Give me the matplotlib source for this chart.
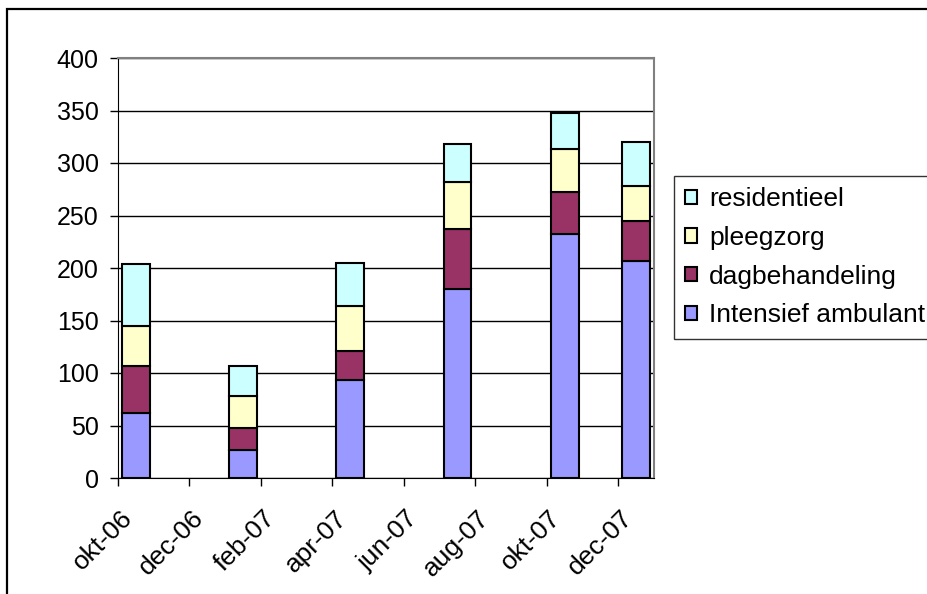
import numpy as np
import matplotlib.pyplot as plt
import matplotlib.transforms as mtransforms
from matplotlib.patches import Rectangle

plt.rcParams['font.family'] = ['Liberation Sans', 'DejaVu Sans']

# months counted from okt-06, one bar per reported month
bar_month = [0, 3, 6, 9, 12, 14]
tick_labels = ['okt-06', 'dec-06', 'feb-07', 'apr-07', 'jun-07', 'aug-07', 'okt-07', 'dec-07']

series_names = ['Intensief ambulant', 'dagbehandeling', 'pleegzorg', 'residentieel']
intensief = [62, 27, 93, 180, 232, 207]
dagbehandeling = [45, 21, 28, 57, 40, 38]
pleegzorg = [38, 30, 43, 45, 41, 33]
residentieel = [59, 29, 41, 36, 35, 42]
colors = ['#9999FF', '#993366', '#FFFFCC', '#CCFFFF']

fig = plt.figure(figsize=(9.27, 5.94), dpi=100)
ax = fig.add_axes([118/927, 1-478/594, (654-118)/927, (478-58)/594])

x = np.array(bar_month) + 0.5
bottom = np.zeros(len(x))
handles = []
for name, vals, c in zip(series_names, [intensief, dagbehandeling, pleegzorg, residentieel], colors):
    b = ax.bar(x, vals, width=0.78, bottom=bottom, color=c, edgecolor='black', linewidth=1.5,
               label=name, zorder=3)
    handles.append(b)
    bottom += np.array(vals)

ax.set_xlim(0, 15)
ax.set_ylim(0, 400)
ax.set_yticks(np.arange(0, 401, 50))
xt = np.arange(0, 15, 2)
ax.set_xticks(xt)
ax.set_xticklabels([])
# excel puts the rotated labels well below the tick, ending just right of it
shift = mtransforms.ScaledTranslation(0.02, -0.28, fig.dpi_scale_trans)
for pos, lab in zip(xt, tick_labels):
    ax.text(pos, 0, lab, transform=ax.get_xaxis_transform() + shift, fontsize=19,
            rotation=45, ha='right', va='top', rotation_mode='anchor')
ax.yaxis.grid(True, color='black', linewidth=1)
ax.set_axisbelow(True)
ax.tick_params(axis='both', labelsize=18, length=6, width=1, direction='out', color='black')
ax.tick_params(axis='y', pad=8)
ax.spines['top'].set_color('#808080')
ax.spines['right'].set_color('#808080')
ax.spines['top'].set_linewidth(1.5)
ax.spines['right'].set_linewidth(1.5)

leg = ax.legend(handles[::-1], series_names[::-1], loc='upper left',
                bbox_to_anchor=(674/927, 1-176/594), bbox_transform=fig.transFigure,
                fontsize=19, frameon=True, fancybox=False, edgecolor='black',
                handlelength=0.45, handleheight=0.45, handletextpad=0.45,
                labelspacing=0.56, borderpad=0.42, borderaxespad=0)
leg.get_frame().set_linewidth(1)

fig.patches.append(Rectangle((7/927, -0.1), 1.0, 1-9/594+0.1, transform=fig.transFigure,
                             fill=False, edgecolor='black', linewidth=1.6))

fig.savefig('out.png', dpi=100)
